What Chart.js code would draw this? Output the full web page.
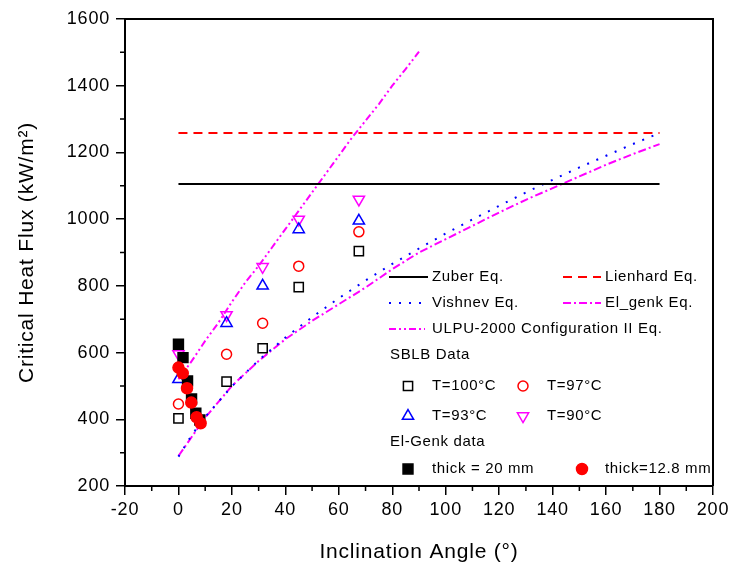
<!DOCTYPE html>
<html>
<head>
<meta charset="utf-8">
<script src="https://cdn.jsdelivr.net/npm/chart.js@4.4.0/dist/chart.umd.min.js"></script>
<style>
  html, body { margin: 0; padding: 0; background: #fff; }
  #wrap { width: 733px; height: 574px; }
</style>
</head>
<body>
<div id="wrap"><canvas id="chf"></canvas></div>
<script>
// correlations
const eqAngle = [0, 180];
const zuberFlux = [1105, 1105];
const lienhardFlux = [1258, 1258];

const vishnevAngle = [0, 5, 10, 20, 30, 40, 50, 60, 70, 80, 90, 100, 110, 120, 130, 140, 150, 160, 170, 180];
const vishnevFlux = [288, 353, 407, 499, 577, 645, 706, 763, 816, 866, 912, 957, 999, 1040, 1080, 1118, 1155, 1190, 1225, 1258];

const elgenkAngle = [0, 10, 20, 30, 40, 50, 60, 70, 80, 90, 100, 110, 120, 130, 140, 150, 160, 170, 180];
const elgenkFlux = [290, 405, 500, 575, 640, 695, 745, 795, 850, 900, 940, 980, 1020, 1058, 1093, 1128, 1163, 1195, 1225];

const ulpuAngle = [0, 5, 10, 15, 20, 25, 30, 35, 40, 45, 50, 55, 60, 65, 70, 75, 80, 85, 90];
const ulpuFlux = [520, 575, 635, 690, 752, 810, 860, 915, 970, 1025, 1080, 1135, 1190, 1245, 1295, 1345, 1400, 1450, 1502];

// SBLB data
const sblbAngle = [0, 18, 31.5, 45, 67.5];
const t100Flux = [403, 513, 613, 796, 904];
const t97Flux = [446, 595, 688, 859, 962];
const t93Flux = [520, 688, 800, 969, 995];
const t90Flux = [596, 713, 857, 999, 1059];

// El-Genk data
const thick20Angle = [0, 1.7, 3.4, 4.9, 6.5, 8.0];
const thick20Flux = [625, 585, 515, 461, 418, 398];
const thick128Angle = [0, 1.6, 3.2, 4.8, 6.8, 8.3];
const thick128Flux = [555, 538, 493, 450, 406, 388];

function pts(xs, ys) {
  return xs.map((x, i) => ({ x: x, y: ys[i] }));
}

const FONT = '"Liberation Sans", Arial, sans-serif';
const MAGENTA = '#ff00ff';

function lineSet(label, xs, ys, color, dash) {
  return {
    label: label,
    data: pts(xs, ys),
    showLine: true,
    borderColor: color,
    borderWidth: 2,
    borderDash: dash,
    pointRadius: 0,
    fill: false,
    order: 5
  };
}

function pointSet(label, xs, ys, style, color, filled, radius, rotation, order) {
  return {
    label: label,
    data: pts(xs, ys),
    showLine: false,
    pointStyle: style,
    pointRadius: radius,
    pointRotation: rotation,
    pointBorderColor: color,
    pointBackgroundColor: filled ? color : 'rgba(0,0,0,0)',
    pointBorderWidth: 1.5,
    borderColor: color,
    backgroundColor: filled ? color : 'rgba(0,0,0,0)',
    order: order
  };
}

// the original text is a bit wider spaced
const spacingPlugin = {
  id: 'spacing',
  beforeDraw(chart) {
    if ('letterSpacing' in chart.ctx) chart.ctx.letterSpacing = '0.8px';
  }
};

// minor ticks + box on top/right
const framePlugin = {
  id: 'frame',
  afterDraw(chart) {
    const ctx = chart.ctx;
    const a = chart.chartArea;
    const xs = chart.scales.x, ys = chart.scales.y;
    ctx.save();
    ctx.strokeStyle = '#000';
    ctx.lineWidth = 1.5;
    ctx.beginPath();
    for (let v = -10; v < 200; v += 20) {
      const px = xs.getPixelForValue(v);
      ctx.moveTo(px, a.bottom);
      ctx.lineTo(px, a.bottom + 5);
    }
    for (let v = 300; v < 1600; v += 200) {
      const py = ys.getPixelForValue(v);
      ctx.moveTo(a.left, py);
      ctx.lineTo(a.left - 5, py);
    }
    ctx.stroke();
    ctx.lineWidth = 2;
    ctx.beginPath();
    ctx.moveTo(a.left, a.top);
    ctx.lineTo(a.right, a.top);
    ctx.lineTo(a.right, a.bottom);
    ctx.stroke();
    ctx.restore();
  }
};

function drawMarker(ctx, ds, x, y) {
  const r = ds.pointRadius;
  ctx.save();
  ctx.strokeStyle = ds.pointBorderColor;
  ctx.fillStyle = ds.pointBackgroundColor;
  ctx.lineWidth = ds.pointBorderWidth;
  ctx.beginPath();
  if (ds.pointStyle === 'rect') {
    const s = r * Math.SQRT1_2;
    ctx.rect(x - s, y - s, 2 * s, 2 * s);
  } else if (ds.pointStyle === 'circle') {
    ctx.arc(x, y, r, 0, Math.PI * 2);
  } else {
    const dir = ds.pointRotation === 180 ? -1 : 1;
    ctx.moveTo(x, y - dir * r);
    ctx.lineTo(x + r * 0.866, y + dir * r * 0.5);
    ctx.lineTo(x - r * 0.866, y + dir * r * 0.5);
    ctx.closePath();
  }
  ctx.fill();
  ctx.stroke();
  ctx.restore();
}

// legend inside the plot, laid out like the original
const legendPlugin = {
  id: 'boxLegend',
  afterDraw(chart) {
    const ctx = chart.ctx;
    const a = chart.chartArea;
    const d = chart.data.datasets;
    const x0 = a.left + 264, y0 = a.top + 258;
    const c1 = x0 + 43, c2 = x0 + 216;
    ctx.save();
    ctx.font = '15px ' + FONT;
    if ('letterSpacing' in ctx) ctx.letterSpacing = '0.65px';
    ctx.fillStyle = '#000';
    ctx.textBaseline = 'middle';

    function sample(ds, xa, xb, y) {
      ctx.save();
      ctx.strokeStyle = ds.borderColor;
      ctx.lineWidth = 2;
      ctx.setLineDash(ds.borderDash || []);
      ctx.beginPath();
      ctx.moveTo(xa, y);
      ctx.lineTo(xb, y);
      ctx.stroke();
      ctx.restore();
    }
    sample(d[0], x0, x0 + 39, y0);
    ctx.fillText(d[0].label, c1, y0);
    sample(d[1], x0 + 174, x0 + 212, y0);
    ctx.fillText(d[1].label, c2, y0);
    sample(d[2], x0, x0 + 36, y0 + 26);
    ctx.fillText(d[2].label, c1, y0 + 26);
    sample(d[3], x0 + 174, x0 + 212, y0 + 26);
    ctx.fillText(d[3].label, c2, y0 + 26);
    sample(d[4], x0, x0 + 36, y0 + 52);
    ctx.fillText(d[4].label, c1, y0 + 52);
    ctx.fillText('SBLB Data', x0 + 1, y0 + 78);
    drawMarker(ctx, d[5], x0 + 19, y0 + 109);
    ctx.fillText(d[5].label, c1, y0 + 109);
    drawMarker(ctx, d[6], x0 + 134, y0 + 109);
    ctx.fillText(d[6].label, x0 + 158, y0 + 109);
    drawMarker(ctx, d[7], x0 + 19, y0 + 139);
    ctx.fillText(d[7].label, c1, y0 + 139);
    drawMarker(ctx, d[8], x0 + 134, y0 + 139);
    ctx.fillText(d[8].label, x0 + 158, y0 + 139);
    ctx.fillText('El-Genk data', x0 + 1, y0 + 165);
    drawMarker(ctx, d[9], x0 + 19, y0 + 192);
    ctx.fillText(d[9].label, c1, y0 + 192);
    drawMarker(ctx, d[10], x0 + 193, y0 + 192);
    ctx.fillText(d[10].label, c2, y0 + 192);
    ctx.restore();
  }
};

const ctx = document.getElementById('chf').getContext('2d');
window.chfChart = new Chart(ctx, {
  type: 'scatter',
  data: {
    datasets: [
      lineSet('Zuber Eq.', eqAngle, zuberFlux, '#000', []),
      lineSet('Lienhard Eq.', eqAngle, lienhardFlux, '#ff0000', [9, 6]),
      lineSet('Vishnev Eq.', vishnevAngle, vishnevFlux, '#0000ff', [2, 8]),
      lineSet('El_genk Eq.', elgenkAngle, elgenkFlux, MAGENTA, [8, 3, 2, 3]),
      lineSet('ULPU-2000 Configuration II Eq.', ulpuAngle, ulpuFlux, MAGENTA, [7, 3, 2, 3, 2, 3]),
      pointSet('T=100°C', sblbAngle, t100Flux, 'rect', '#000', false, 6.5, 0, 2),
      pointSet('T=97°C', sblbAngle, t97Flux, 'circle', '#ff0000', false, 5, 0, 2),
      pointSet('T=93°C', sblbAngle, t93Flux, 'triangle', '#0000ff', false, 6.5, 0, 2),
      pointSet('T=90°C', sblbAngle, t90Flux, 'triangle', MAGENTA, false, 6.5, 180, 2),
      pointSet('thick = 20 mm', thick20Angle, thick20Flux, 'rect', '#000', true, 7, 0, 1),
      pointSet('thick=12.8 mm', thick128Angle, thick128Flux, 'circle', '#ff0000', true, 5.5, 0, 0)
    ]
  },
  options: {
    responsive: true,
    maintainAspectRatio: false,
    animation: false,
    layout: { padding: { top: 19, right: 20, left: 0, bottom: 0 } },
    plugins: {
      legend: { display: false },
      tooltip: { enabled: false }
    },
    scales: {
      x: {
        type: 'linear',
        min: -20,
        max: 200,
        ticks: { stepSize: 20, color: '#000', padding: 4, font: { family: FONT, size: 18 },
          callback: (v) => String(v) },
        grid: { drawOnChartArea: false, drawTicks: true, tickLength: 9, color: '#000', lineWidth: 1.5 },
        border: { color: '#000', width: 2 },
        title: {
          display: true,
          text: 'Inclination Angle (°)',
          color: '#000',
          font: { family: FONT, size: 21 },
          padding: { top: 0, bottom: 9 }
        },
        afterFit: (scale) => { scale.height = 88; }
      },
      y: {
        type: 'linear',
        min: 200,
        max: 1600,
        ticks: { stepSize: 200, color: '#000', padding: 6, font: { family: FONT, size: 18 },
          callback: (v) => String(v) },
        grid: { drawOnChartArea: false, drawTicks: true, tickLength: 9, color: '#000', lineWidth: 1.5 },
        border: { color: '#000', width: 2 },
        title: {
          display: true,
          text: 'Critical Heat Flux (kW/m²)',
          color: '#000',
          font: { family: FONT, size: 21 },
          padding: { top: 15, bottom: 0 }
        },
        afterFit: (scale) => { scale.width = 125; }
      }
    }
  },
  plugins: [spacingPlugin, framePlugin, legendPlugin]
});
</script>
</body>
</html>
